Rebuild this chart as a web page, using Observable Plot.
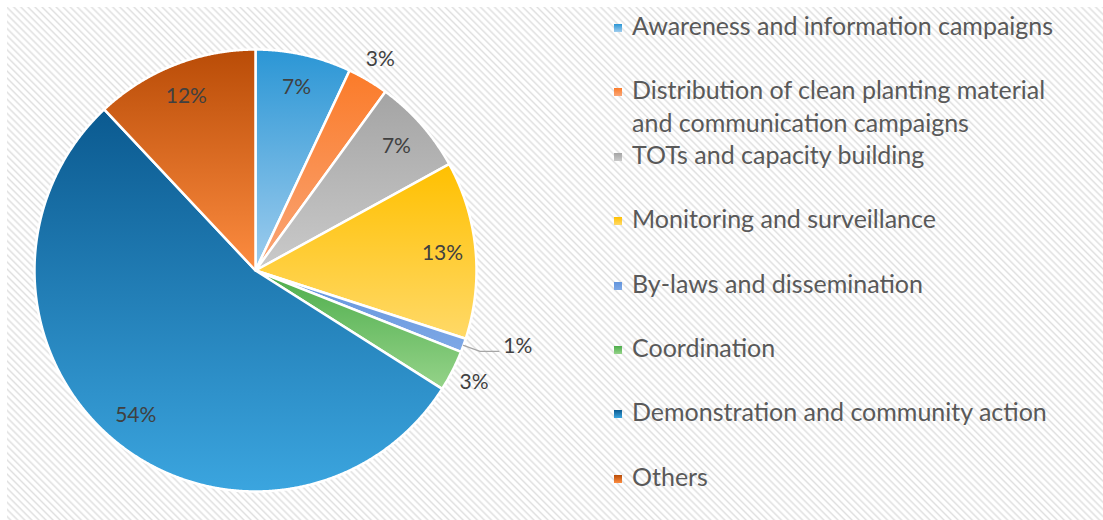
<!DOCTYPE html>
<html>
<head>
<meta charset="utf-8">
<script src="https://cdn.jsdelivr.net/npm/d3@7"></script>
<script src="https://cdn.jsdelivr.net/npm/@observablehq/plot@0.6"></script>
<style>
  html, body { margin: 0; padding: 0; background: #fff; }
  #wrap { position: relative; width: 1103px; height: 520px; overflow: hidden; background: #fff; }
  #panel { position: absolute; left: 7px; top: 7px; right: 0; bottom: 0;
    background: repeating-linear-gradient(45deg, #ffffff 0px, #ffffff 1px, #e0e0e0 2.5px, #ffffff 4px, #ffffff 5px); }
  #chart { position: absolute; left: 0; top: 0; }
  #legend { position: absolute; left: 0; top: 0; width: 1103px; height: 520px; font-family: Lato, "Open Sans", sans-serif; color: #595959; font-size: 25px; }
  .entry { position: absolute; left: 632px; width: 440px; line-height: 33px; }
  .sw { position: absolute; width: 8px; height: 8px; left: -18px; top: 15px; }
</style>
</head>
<body>
<div id="wrap">
  <div id="panel"></div>
  <div id="chart"></div>
  <div id="legend"></div>
</div>
<script>
// ---- data ----
const categories = [
  "Awareness and information campaigns",
  "Distribution of clean planting material and communication campaigns",
  "TOTs and capacity building",
  "Monitoring and surveillance",
  "By-laws and dissemination",
  "Coordination",
  "Demonstration and community action",
  "Others"
];
const shares = [7, 3, 7, 13, 1, 3, 54, 12];

// ---- styles ----
const topColors    = ["#2b96d5", "#fb7b29", "#a4a4a4", "#ffc000", "#6294dc", "#4dad4b", "#0b5a90", "#b94c07"];
const bottomColors = ["#9fcdee", "#f9a678", "#cacaca", "#ffd968", "#7ea8e6", "#95d389", "#3ba5df", "#fd8c40"];

// ---- layout ----
const W = 560, H = 520, CX = 255, CY = 270, R = 221;

const arcs = d3.pie().sort(null).value(d => d)(shares);
const slicePts = [];
arcs.forEach((a, i) => {
  const key = categories[i];
  slicePts.push({key, x: 0, y: 0});
  const n = Math.max(4, Math.ceil((a.endAngle - a.startAngle) / 0.004));
  for (let k = 0; k <= n; k++) {
    const t = a.startAngle + (a.endAngle - a.startAngle) * k / n;
    slicePts.push({key, x: Math.sin(t), y: Math.cos(t)});
  }
  slicePts.push({key, x: 0, y: 0});
});

const labelMid = [];
const labelStart = [];
const leaderPts = [];
arcs.forEach((a, i) => {
  const m = (a.startAngle + a.endAngle) / 2;
  const v = shares[i];
  const text = v + "%";
  if (v >= 5) {
    labelMid.push({x: 0.85 * Math.sin(m), y: 0.85 * Math.cos(m), text});
  } else if (v >= 2) {
    labelMid.push({x: 1.11 * Math.sin(m), y: 1.11 * Math.cos(m), text});
  } else {
    const ex = Math.sin(m), ey = Math.cos(m);
    const bx = 1.08 * ex, by = 1.08 * ey;
    const fx = bx + 0.085;
    leaderPts.push({x: ex, y: ey, k: i}, {x: bx, y: by, k: i}, {x: fx, y: by, k: i});
    labelStart.push({x: fx + 0.02, y: by + 0.025, text});
  }
});

const gradUrls = categories.map((c, i) => `url(#slice-grad-${i})`);
const labelFont = "Lato, 'Open Sans', sans-serif";

const chart = Plot.plot({
  width: W, height: H,
  marginTop: 0, marginRight: 0, marginBottom: 0, marginLeft: 0,
  x: {axis: null, domain: [-CX / R, (W - CX) / R]},
  y: {axis: null, domain: [-(H - CY) / R, CY / R]},
  color: {type: "ordinal", domain: categories, range: gradUrls},
  style: {background: "transparent", overflow: "visible"},
  marks: [
    Plot.line(slicePts, {x: "x", y: "y", z: "key", fill: "key", stroke: "white", strokeWidth: 2.5, strokeLinejoin: "round", curve: "linear"}),
    Plot.line(leaderPts, {x: "x", y: "y", z: "k", stroke: "#a6a6a6", strokeWidth: 1.2}),
    Plot.text(labelMid, {x: "x", y: "y", text: "text", textAnchor: "middle", fontSize: 21, fill: "#404040", fontFamily: labelFont}),
    Plot.text(labelStart, {x: "x", y: "y", text: "text", textAnchor: "start", fontSize: 21, fill: "#404040", fontFamily: labelFont})
  ]
});

// gradients
const svg = d3.select(chart);
const defs = svg.insert("defs", ":first-child");
categories.forEach((c, i) => {
  const g = defs.append("linearGradient").attr("id", `slice-grad-${i}`)
    .attr("x1", 0).attr("y1", 0).attr("x2", 0).attr("y2", 1);
  g.append("stop").attr("offset", "0%").attr("stop-color", topColors[i]);
  g.append("stop").attr("offset", "100%").attr("stop-color", bottomColors[i]);
});
document.getElementById("chart").appendChild(chart);

// legend
const legend = document.getElementById("legend");
const firstTop = 9, pitch = 64.4;
categories.forEach((c, i) => {
  const e = document.createElement("div");
  e.className = "entry";
  e.style.top = (firstTop + i * pitch) + "px";
  const sw = document.createElement("div");
  sw.className = "sw";
  sw.style.background = `linear-gradient(${topColors[i]}, ${bottomColors[i]})`;
  e.appendChild(sw);
  e.appendChild(document.createTextNode(c));
  legend.appendChild(e);
});
</script>
</body>
</html>
